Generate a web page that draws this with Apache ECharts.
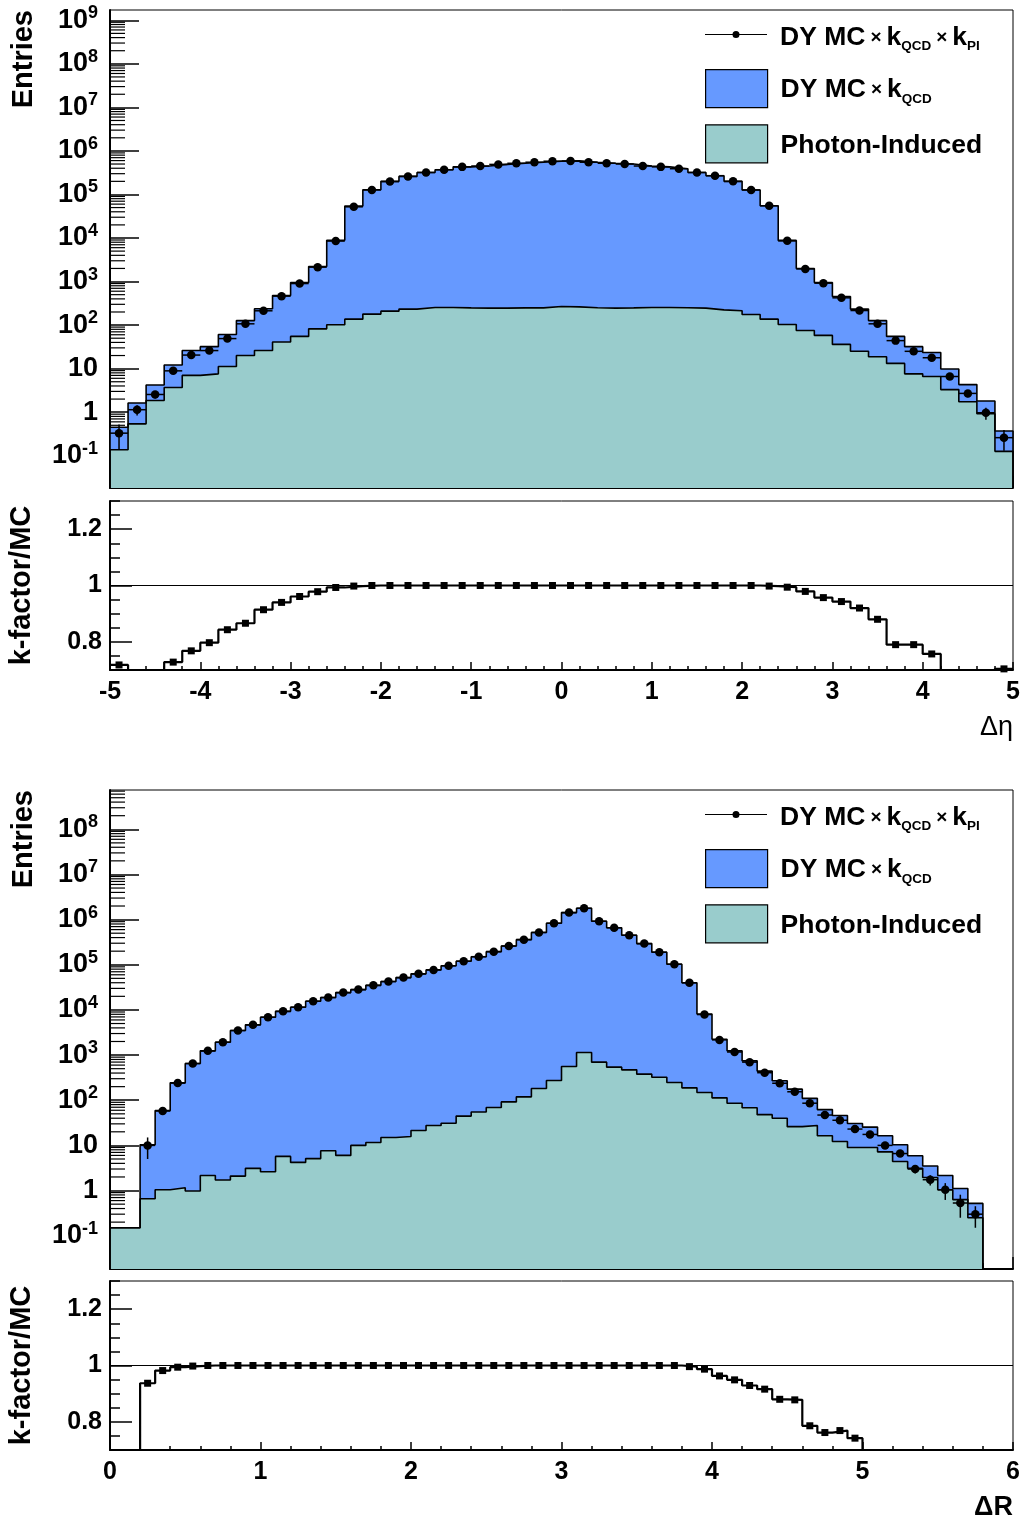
<!DOCTYPE html>
<html>
<head>
<meta charset="utf-8">
<script src="https://cdn.jsdelivr.net/npm/echarts@6/dist/echarts.min.js"></script>
<style>
  html, body { margin: 0; padding: 0; background: #fff; }
  #chart { width: 1024px; height: 1517px; }
</style>
</head>
<body>
<div id="chart"></div>
<script>
const FONT = '"Liberation Sans", Arial, Helvetica, sans-serif'
const BLUE = '#6699ff'
const TEAL = '#99cccc'

const NAME_KPI = 'DY MC × kQCD × kPI'
const NAME_QCD = 'DY MC × kQCD'
const NAME_PI = 'Photon-Induced'

// Δη histograms: 50 bins of 0.2 from -5 to 5
const etaStart = -5
const etaWidth = 0.2
const etaDY = [0.45, 1.62, 4.2, 12.1, 26, 32, 61, 127, 237, 479,
  951, 2210, 8900, 5.4e4, 1.28e5, 2.0e5, 2.6e5, 3.2e5, 3.7e5, 4.3e5,
  4.5e5, 4.9e5, 5.2e5, 5.5e5, 5.8e5, 5.9e5, 5.5e5, 5.2e5, 5.0e5, 4.5e5,
  4.3e5, 3.9e5, 3.2e5, 2.7e5, 2.0e5, 1.27e5, 5.5e4, 8.8e3, 1990, 950,
  453, 233, 127, 55, 32, 23.5, 9.8, 4.3, 1.8, 0.37]
const etaPI = [0.137, 0.54, 1.86, 3.7, 7.0, 7.6, 11.2, 20, 26, 41,
  55, 82, 102, 137, 179, 209, 233, 254, 254, 248,
  245, 245, 248, 248, 267, 262, 250, 245, 248, 254,
  254, 250, 245, 224, 213, 175, 137, 103, 75, 58,
  36, 25, 18.7, 13.2, 7.6, 6.6, 3.3, 1.74, 0.92, 0.126]
const etaKPI = [0.33, 1.14, 2.55, 8.9, 20.5, 26, 49, 107, 213, 462,
  900, 2140, 8500, 5.2e4, 1.27e5, 1.98e5, 2.6e5, 3.2e5, 3.7e5, 4.3e5,
  4.5e5, 4.9e5, 5.2e5, 5.5e5, 5.8e5, 5.9e5, 5.5e5, 5.2e5, 5.0e5, 4.5e5,
  4.3e5, 3.9e5, 3.2e5, 2.7e5, 2.0e5, 1.27e5, 5.5e4, 8.6e3, 1950, 918,
  423, 216, 107, 44, 25, 17.8, 6.6, 2.7, 0.97, 0.26]
const etaErr = [0.19, 0.3, 0.5, 0.9, 1.4, 1.6, 2.2, 3.2, 4.6, 6.8,
  9.5, 15, 30, 80, 120, 150, 170, 190, 200, 220,
  220, 230, 240, 250, 250, 250, 250, 240, 230, 220,
  220, 210, 190, 170, 150, 120, 80, 30, 15, 9.5,
  6.5, 4.6, 3.2, 2.1, 1.6, 1.3, 0.8, 0.5, 0.3, 0.13]
const etaRatio = [0.718, 0.68, 0.62, 0.728, 0.768, 0.797, 0.843, 0.866, 0.914, 0.94,
  0.961, 0.978, 0.993, 0.998, 1, 1, 1, 1, 1, 1,
  1, 1, 1, 1, 1, 1, 1, 1, 1, 1,
  1, 1, 1, 1, 1, 1, 0.998, 0.994, 0.979, 0.957,
  0.943, 0.92, 0.88, 0.79, 0.79, 0.757, 0.67, 0.63, 0.55, 0.704]

// ΔR histograms: 60 bins of 0.1 from 0 to 6
const drStart = 0
const drWidth = 0.1
const drDY = [0.15, 0.15, 10.3, 59, 243, 650, 1240, 1930, 3500, 4670,
  6900, 9300, 1.15e4, 1.56e4, 1.88e4, 2.42e4, 2.82e4, 3.5e4, 4.25e4, 5.2e4,
  6.3e4, 7.7e4, 9.5e4, 1.2e5, 1.51e5, 1.95e5, 2.6e5, 3.6e5, 5.2e5, 8.3e5,
  1.43e6, 1.78e6, 9.2e5, 6.6e5, 4.5e5, 2.94e5, 1.9e5, 1.03e5, 4.0e4, 8.1e3,
  2250, 1240, 746, 442, 270, 176, 110, 62, 46, 30.5,
  25.4, 16.3, 10.3, 5.9, 3.5, 2.16, 1.11, 0.52, 0, 0]
const drPI = [0.15, 0.15, 0.66, 1.04, 1.15, 0.98, 2.16, 1.71, 2.09, 3.1,
  2.6, 5.7, 4.2, 5.1, 7.6, 6.0, 10, 11.6, 15, 15.8,
  21.4, 27.6, 31, 44.6, 55, 69, 92, 119, 182, 274,
  559, 1140, 698, 541, 471, 378, 324, 247, 188, 148,
  113, 86, 68, 48, 40, 26, 27.5, 16.3, 12.2, 9,
  9, 7.2, 4.4, 3.1, 1.95, 1.04, 0.63, 0.25, 0, 0]
const drKPI = [null, null, 10, 58, 240, 650, 1240, 1930, 3500, 4670,
  6900, 9300, 1.15e4, 1.56e4, 1.88e4, 2.42e4, 2.82e4, 3.5e4, 4.25e4, 5.2e4,
  6.3e4, 7.7e4, 9.5e4, 1.2e5, 1.51e5, 1.95e5, 2.6e5, 3.6e5, 5.2e5, 8.3e5,
  1.43e6, 1.78e6, 9.2e5, 6.6e5, 4.5e5, 2.94e5, 1.9e5, 1.03e5, 3.98e4, 7.9e3,
  2170, 1170, 698, 407, 238, 154, 86, 47, 36, 23,
  17.5, 10, 6.6, 3.0, 1.74, 1.04, 0.53, 0.30, null, null]
const drErr = [0, 0, 5, 7, 12, 20, 28, 35, 48, 55,
  65, 75, 85, 100, 110, 125, 135, 150, 165, 180,
  200, 220, 245, 275, 310, 350, 400, 470, 570, 720,
  940, 1050, 760, 640, 530, 430, 345, 250, 160, 70,
  36, 26, 20, 15, 11, 8, 5.5, 4, 3.4, 2.6,
  2.0, 1.5, 1.0, 0.6, 0.45, 0.42, 0.28, 0.15, 0, 0]
const drRatio = [0, 0, 0.937, 0.982, 0.994, 0.998, 1, 1, 1, 1,
  1, 1, 1, 1, 1, 1, 1, 1, 1, 1,
  1, 1, 1, 1, 1, 1, 1, 1, 1, 1,
  1, 1, 1, 1, 1, 1, 1, 1, 0.996, 0.987,
  0.963, 0.949, 0.929, 0.916, 0.88, 0.878, 0.786, 0.762, 0.769, 0.742,
  0.69, 0.61, 0.64, 0.51, 0.5, 0.48, 0.48, 0.58, 0, 0]

// axis ranges of the log panels, in decades
const etaDecades = [-1.741, 9.236]
const drDecades = [-1.737, 8.87]

const edge = (x0, w, i) => +(x0 + i * w).toFixed(4)
const mid = (x0, w, i) => +(x0 + (i + 0.5) * w).toFixed(4)

// step outline points: start and end on the floor so the outline closes
const histPoints = (x0, w, vals, floor) => {
  const pts = [[edge(x0, w, 0), floor]]
  vals.forEach((v, i) => pts.push([edge(x0, w, i), v > 0 ? v : floor]))
  pts.push([edge(x0, w, vals.length), floor])
  return pts
}

const ratioPoints = (x0, w, vals) => {
  const pts = vals.map((v, i) => [edge(x0, w, i), v])
  pts.push([edge(x0, w, vals.length), vals[vals.length - 1]])
  return pts
}

const centers = (x0, w, vals) =>
  vals.map((v, i) => v == null ? null : [mid(x0, w, i), v]).filter(Boolean)

// [center, value, low edge, high edge, error]
const errorRows = (x0, w, vals, errs) =>
  vals.map((v, i) => v == null ? null : [mid(x0, w, i), v, edge(x0, w, i), edge(x0, w, i + 1), errs[i]]).filter(Boolean)

const errorRender = floor => (params, api) => {
  const c = api.value(0)
  const v = api.value(1)
  const e = api.value(4)
  const a = api.coord([api.value(2), v])
  const b = api.coord([api.value(3), v])
  const t = api.coord([c, v + e])
  const d = api.coord([c, Math.max(v - e, floor)])
  const style = { stroke: '#000', lineWidth: 1.5 }
  return {
    type: 'group',
    children: [
      { type: 'line', shape: { x1: a[0], y1: a[1], x2: b[0], y2: b[1] }, style },
      { type: 'line', shape: { x1: t[0], y1: t[1], x2: d[0], y2: d[1] }, style }
    ]
  }
}

// 2..9 x 10^n positions for the log minor ticks
const minorLogTicks = (lo, hi, x) => {
  const out = []
  for (let p = Math.floor(Math.log10(lo)); p <= Math.ceil(Math.log10(hi)); p++) {
    for (let m = 2; m <= 9; m++) {
      const v = m * Math.pow(10, p)
      if (v > lo && v < hi) out.push([x, v])
    }
  }
  return out
}

const minorTickRender = (params, api) => {
  const p = api.coord([api.value(0), api.value(1)])
  return {
    type: 'line',
    shape: { x1: p[0], y1: p[1], x2: p[0] + 15, y2: p[1] },
    style: { stroke: '#000', lineWidth: 1.2 }
  }
}

const labelRich = {
  b: { fontFamily: FONT, fontSize: 27, fontWeight: 'bold', color: '#000', lineHeight: 32 },
  s: { fontFamily: FONT, fontSize: 18, fontWeight: 'bold', color: '#000', lineHeight: 18, verticalAlign: 'top' }
}

const expLabel = v => {
  const p = Math.round(v)
  if (Math.abs(v - p) > 1e-6) return ''
  if (p === 0) return '{b|1}'
  if (p === 1) return '{b|10}'
  return '{b|10}{s|' + p + '}'
}

const legendRich = {
  m: { fontFamily: FONT, fontSize: 26.5, fontWeight: 'bold', color: '#000', lineHeight: 32 },
  x: { fontFamily: FONT, fontSize: 19, color: '#000', lineHeight: 32, padding: [0, 5, 0, 5] },
  s: { fontFamily: FONT, fontSize: 13.5, fontWeight: 'bold', color: '#000', lineHeight: 13, verticalAlign: 'bottom' }
}

const legendText = {
  [NAME_KPI]: '{m|DY MC}{x|×}{m|k}{s|QCD}{x|×}{m|k}{s|PI}',
  [NAME_QCD]: '{m|DY MC}{x|×}{m|k}{s|QCD}',
  [NAME_PI]: '{m|Photon-Induced}'
}

const frame = { show: true, borderColor: '#000', borderWidth: 1, backgroundColor: 'transparent', outerBoundsMode: 'none' }
const tickLine = { color: '#000', width: 1.5 }
const axisLine = { show: true, onZero: false, lineStyle: { color: '#000', width: 2 } }
const noLine = { show: false, onZero: false }
const boldLabel = { fontFamily: FONT, fontSize: 25, fontWeight: 'bold', color: '#000' }

const mainX = (grid, min, max) => ({
  type: 'value', gridIndex: grid, position: 'bottom', min, max, interval: 1,
  axisLine, splitLine: { show: false },
  axisTick: { inside: true, length: 12, lineStyle: tickLine },
  minorTick: { show: true, splitNumber: 5, length: 6, lineStyle: tickLine },
  axisLabel: { show: false }
})

const ratioX = (grid, min, max, name) => ({
  type: 'value', gridIndex: grid, position: 'bottom', min, max, interval: 1,
  axisLine, splitLine: { show: false },
  axisTick: { inside: true, length: 8, lineStyle: tickLine },
  minorTick: { show: true, splitNumber: 5, length: 4, lineStyle: tickLine },
  axisLabel: { ...boldLabel, margin: 10 },
  name, nameLocation: 'end', nameGap: 0,
  nameTextStyle: { fontFamily: FONT, fontSize: 27, color: '#000', align: 'right', verticalAlign: 'top', padding: [44, 0, 0, 0], rich: {
    n: { fontFamily: FONT, fontSize: 27, color: '#000' },
    r: { fontFamily: FONT, fontSize: 27, fontWeight: 'bold', color: '#000' }
  } }
})

// data axis: log scale, ticks drawn by the exponent axis and the minor-tick series
const logY = (grid, dec) => ({
  type: 'log', logBase: 10, gridIndex: grid, position: 'left',
  min: Math.pow(10, dec[0]), max: Math.pow(10, dec[1]),
  axisLine, splitLine: { show: false }, axisTick: { show: false }, minorTick: { show: false },
  axisLabel: { show: false },
  name: 'Entries', nameLocation: 'end', nameGap: 0, nameRotate: 90,
  nameTextStyle: { fontFamily: FONT, fontSize: 29, fontWeight: 'bold', color: '#000', align: 'right', verticalAlign: 'bottom', padding: [0, 0, 72, 0] }
})

// same pixel range in decades: carries the 10^n labels and major ticks
const expY = (grid, dec) => ({
  type: 'value', gridIndex: grid, position: 'left', offset: 0, min: dec[0], max: dec[1], splitNumber: 11,
  axisLine: noLine, splitLine: { show: false },
  axisTick: { inside: true, length: 29, lineStyle: tickLine },
  axisLabel: { margin: 12, formatter: expLabel, rich: labelRich, showMinLabel: false, showMaxLabel: false }
})

const ratioY = grid => ({
  type: 'value', gridIndex: grid, position: 'left', min: 0.7, max: 1.3, splitNumber: 3,
  axisLine, splitLine: { show: false },
  axisTick: { inside: true, length: 22, lineStyle: tickLine },
  axisLabel: { ...boldLabel, margin: 8, showMinLabel: false, showMaxLabel: false },
  name: 'k-factor/MC', nameLocation: 'middle', nameGap: 74,
  nameTextStyle: { fontFamily: FONT, fontSize: 29, fontWeight: 'bold', color: '#000' }
})

const ratioMinorY = grid => ({
  type: 'value', gridIndex: grid, position: 'left', offset: 0, min: 0.7, max: 1.3, interval: 0.05,
  axisLine: noLine, splitLine: { show: false },
  axisTick: { inside: true, length: 10, lineStyle: tickLine },
  axisLabel: { show: false }
})

const legendKPI = top => ({
  orient: 'vertical', left: 705, top, padding: 0, itemWidth: 62, itemHeight: 7,
  selectedMode: false,
  data: [{ name: NAME_KPI, icon: 'path://M0,3H62V4H0Z M27.5,3.5A3.5,3.5 0 1 1 34.5,3.5A3.5,3.5 0 1 1 27.5,3.5Z', itemStyle: { color: '#000', opacity: 1 } }],
  formatter: n => legendText[n],
  textStyle: { fontFamily: FONT, fontSize: 26.5, fontWeight: 'bold', color: '#000', padding: [6, 0, 0, 8], rich: legendRich }
})

const legendBoxes = top => ({
  orient: 'vertical', left: 705, top, padding: 0, itemWidth: 62, itemHeight: 38, itemGap: 16,
  selectedMode: false,
  data: [
    { name: NAME_QCD, icon: 'rect', itemStyle: { color: BLUE, borderColor: '#000', borderWidth: 1.2 } },
    { name: NAME_PI, icon: 'rect', itemStyle: { color: TEAL, borderColor: '#000', borderWidth: 1.2 } }
  ],
  formatter: n => legendText[n],
  textStyle: { fontFamily: FONT, fontSize: 26.5, fontWeight: 'bold', color: '#000', padding: [3, 0, 0, 8], rich: legendRich }
})

const histSeries = (name, color, xi, yi, pts) => ({
  name, type: 'line', xAxisIndex: xi, yAxisIndex: yi, step: 'end', data: pts,
  symbol: 'none', showSymbol: false, clip: true, silent: true,
  itemStyle: { color }, lineStyle: { color: '#000', width: 1.6 },
  areaStyle: { color, opacity: 1, origin: 'start' }
})

const panelSeries = (p, x0, w, dec, dy, pi, kpi, err, ratio) => {
  const xi = 2 * p
  const yi = 4 * p
  const floor = Math.pow(10, dec[0])
  const ratioData = ratio.map((v, i) => kpi[i] == null ? null : v)
  return [
    histSeries(NAME_QCD, BLUE, xi, yi, histPoints(x0, w, dy, floor)),
    histSeries(NAME_PI, TEAL, xi, yi, histPoints(x0, w, pi, floor)),
    {
      name: 'minor ticks', type: 'custom', xAxisIndex: xi, yAxisIndex: yi, silent: true,
      itemStyle: { color: '#000' },
      data: minorLogTicks(floor, Math.pow(10, dec[1]), x0), renderItem: minorTickRender
    },
    {
      name: 'errors', type: 'custom', xAxisIndex: xi, yAxisIndex: yi, silent: true, z: 3,
      itemStyle: { color: '#000' },
      data: errorRows(x0, w, kpi, err), renderItem: errorRender(floor)
    },
    {
      name: NAME_KPI, type: 'scatter', xAxisIndex: xi, yAxisIndex: yi, silent: true, z: 4,
      symbol: 'circle', symbolSize: 8.5, itemStyle: { color: '#000', opacity: 1 },
      data: centers(x0, w, kpi)
    },
    {
      name: 'ratio', type: 'line', xAxisIndex: xi + 1, yAxisIndex: yi + 2, step: 'end', clip: true, silent: true,
      symbol: 'none', showSymbol: false, itemStyle: { color: '#000' },
      lineStyle: { color: '#000', width: 2.2 },
      data: ratioPoints(x0, w, ratio),
      markLine: {
        silent: true, symbol: 'none', label: { show: false },
        lineStyle: { color: '#000', width: 1, type: 'solid' },
        data: [{ yAxis: 1 }]
      }
    },
    {
      name: 'ratio points', type: 'scatter', xAxisIndex: xi + 1, yAxisIndex: yi + 2, clip: true, silent: true,
      symbol: 'rect', symbolSize: 7, itemStyle: { color: '#000', opacity: 1 },
      data: centers(x0, w, ratioData)
    }
  ]
}

const chart = echarts.init(document.getElementById('chart'), null, { renderer: 'canvas' })

chart.setOption({
  animation: false,
  backgroundColor: '#fff',
  textStyle: { fontFamily: FONT },
  grid: [
    { left: 110, right: 11, top: 10, height: 478, ...frame },
    { left: 110, right: 11, top: 501, height: 169, ...frame },
    { left: 110, right: 11, top: 790, height: 479, ...frame },
    { left: 110, right: 11, top: 1281, height: 169, ...frame }
  ],
  xAxis: [
    mainX(0, -5, 5),
    ratioX(1, -5, 5, '{n|Δη}'),
    mainX(2, 0, 6),
    ratioX(3, 0, 6, '{r|ΔR}')
  ],
  yAxis: [
    logY(0, etaDecades),
    expY(0, etaDecades),
    ratioY(1),
    ratioMinorY(1),
    logY(2, drDecades),
    expY(2, drDecades),
    ratioY(3),
    ratioMinorY(3)
  ],
  legend: [
    legendKPI(24),
    legendBoxes(69),
    legendKPI(804),
    legendBoxes(849)
  ],
  series: [
    ...panelSeries(0, etaStart, etaWidth, etaDecades, etaDY, etaPI, etaKPI, etaErr, etaRatio),
    ...panelSeries(1, drStart, drWidth, drDecades, drDY, drPI, drKPI, drErr, drRatio)
  ]
})
</script>
</body>
</html>
